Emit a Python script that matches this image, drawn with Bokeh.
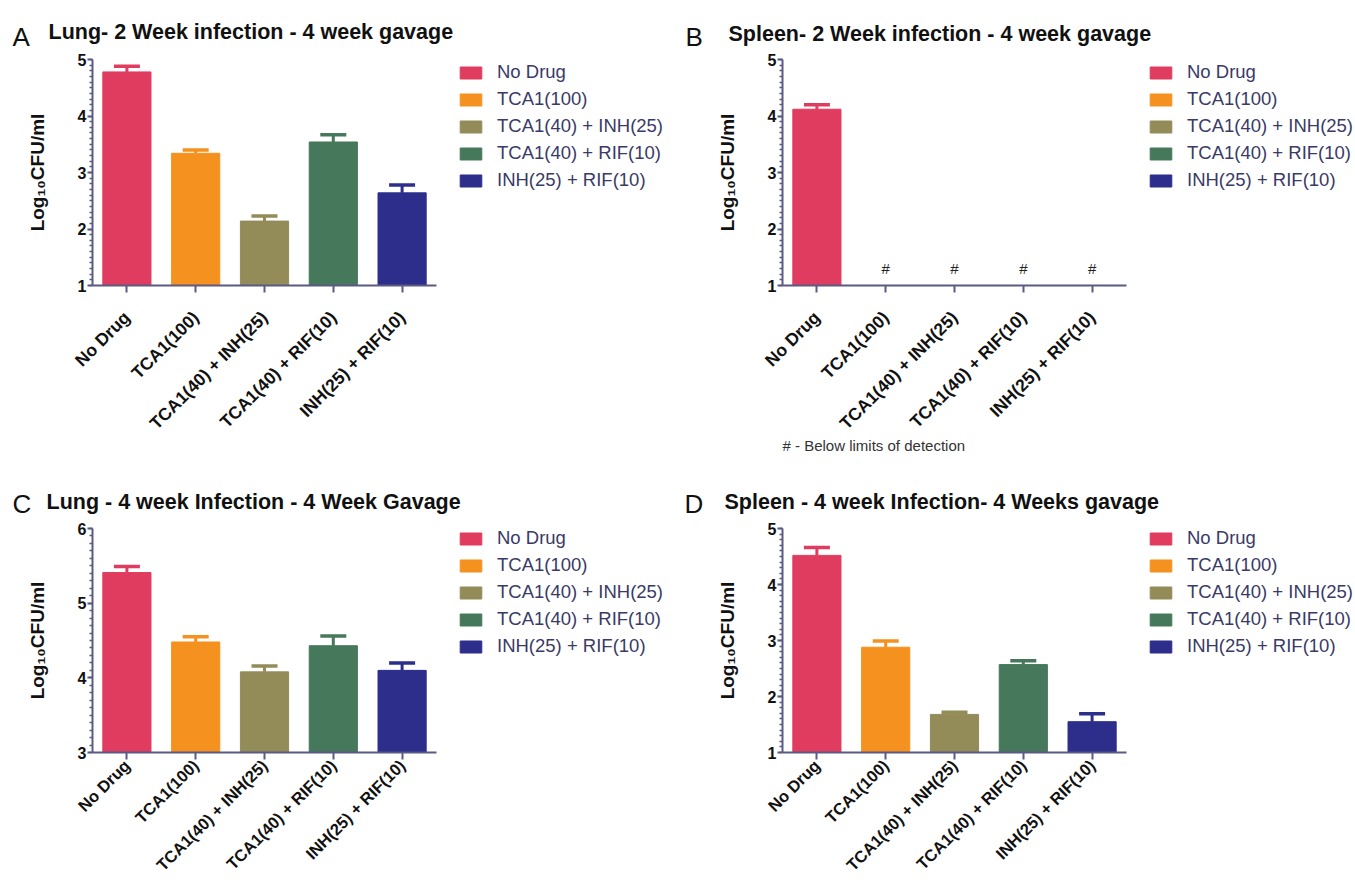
import math
from bokeh.plotting import figure
from bokeh.layouts import column, row
from bokeh.models import (ColumnDataSource, Range1d, FixedTicker, Legend, LegendItem, Title)
from bokeh.core.properties import value
from bokeh.embed import file_html
from bokeh.resources import INLINE

# ---------------- data ----------------
treatments = ["No Drug", "TCA1(100)", "TCA1(40) + INH(25)",
              "TCA1(40) + RIF(10)", "INH(25) + RIF(10)"]
colors = ["#E03C5F", "#F5911E", "#938B58", "#46785C", "#2D2D8C"]

# panel A: Lung - 2 week infection - 4 week gavage (Log10 CFU/ml, mean and mean+SEM)
lung_2wk_mean = [4.78, 3.34, 2.14, 3.54, 2.64]
lung_2wk_upper = [4.88, 3.40, 2.23, 3.67, 2.78]
# panel B: Spleen - 2 week infection (None = below limits of detection)
spleen_2wk_mean = [4.12, None, None, None, None]
spleen_2wk_upper = [4.20, None, None, None, None]
# panel C: Lung - 4 week infection
lung_4wk_mean = [5.41, 4.48, 4.08, 4.43, 4.10]
lung_4wk_upper = [5.49, 4.55, 4.16, 4.56, 4.20]
# panel D: Spleen - 4 week infection
spleen_4wk_mean = [4.52, 2.88, 1.68, 2.57, 1.55]
spleen_4wk_upper = [4.66, 2.99, 1.72, 2.64, 1.69]

titles = ["Lung- 2 Week infection - 4 week gavage",
          "Spleen- 2 Week infection - 4 week gavage",
          "Lung - 4 week Infection - 4 Week Gavage",
          "Spleen - 4 week Infection- 4 Weeks gavage"]
letters = ["A", "B", "C", "D"]
y_limits = [(1, 5), (1, 5), (3, 6), (1, 5)]
y_label = "Log\u2081\u2080CFU/ml"
footnote = "# - Below limits of detection"

# ---------------- style / layout ----------------
AXIS_C = "#5A5A84"
LEG_TXT = "#3A3A66"
FONT = "Liberation Sans"
PAGE_W = 1354
FRAME_W = 344          # width of the bar area of each panel
COL_W = [698, 656]     # widths of the two columns
LEFT = [92, 84]        # left border per column


def header(height, letter_pos, title_pos, idxs):
    h = figure(width=PAGE_W, height=height, x_range=Range1d(0, PAGE_W),
               y_range=Range1d(0, height), output_backend="svg", toolbar_location=None,
               title_location=None, x_axis_type=None, y_axis_type=None, min_border=0,
               background_fill_color="white", border_fill_color="white")
    h.outline_line_color = None
    h.text(x=[p[0] for p in letter_pos], y=[p[1] for p in letter_pos],
           text=[letters[i] for i in idxs], text_font=value(FONT), text_font_size="26px",
           text_color="#111111", text_baseline="alphabetic", text_align="left")
    h.text(x=[p[0] for p in title_pos], y=[p[1] for p in title_pos],
           text=[titles[i] for i in idxs], text_font=value(FONT), text_font_size="21.5px",
           text_font_style="bold", text_color="#111111", text_baseline="alphabetic",
           text_align="left")
    return h


def make_panel(idx, col, mean, upper, height, top, bottom, xfont, xstand, note=None):
    ymin, ymax = y_limits[idx]
    width = COL_W[col]
    left = LEFT[col]
    frame_h = height - top - bottom
    frame_w_total = width - left
    n = len(treatments)
    x_end = n * frame_w_total / FRAME_W
    p = figure(x_range=Range1d(0, x_end), y_range=Range1d(ymin, ymax),
               width=width, height=height, output_backend="svg",
               toolbar_location=None, min_border_left=left, min_border_right=0,
               min_border_top=top, min_border_bottom=bottom,
               background_fill_color="white", border_fill_color="white")
    p.outline_line_color = None
    p.xgrid.visible = False
    p.ygrid.visible = False

    xs = [i + 0.5 for i in range(n)]
    tops = [m if m is not None else float("nan") for m in mean]
    src = ColumnDataSource(dict(x=xs, top=tops, color=colors))
    bars = p.vbar(x="x", top="top", bottom=ymin, width=0.7, source=src,
                  fill_color="color", line_color="color", line_width=1)

    ok = [i for i, m in enumerate(mean) if m is not None]
    esrc = ColumnDataSource(dict(x=[xs[i] for i in ok], y0=[mean[i] for i in ok],
                                 y1=[upper[i] for i in ok], color=[colors[i] for i in ok]))
    p.segment(x0="x", y0="y0", x1="x", y1="y1", line_color="color", line_width=3, source=esrc)
    p.scatter(x="x", y="y1", marker="dash", size=26, line_width=3.5,
              line_color="color", source=esrc)

    # below detection markers
    bx = [xs[i] for i, m in enumerate(mean) if m is None]
    if bx:
        p.text(x=bx, y=[ymin] * len(bx), text=["#"] * len(bx), text_align="center",
               text_baseline="alphabetic", y_offset=-17, text_font=value(FONT),
               text_font_size="15px", text_color="#222222")

    # legend to the right of the bars
    items = [LegendItem(label=t, renderers=[bars], index=i) for i, t in enumerate(treatments)]
    row_h, gap = 21, 5
    leg_h = n * row_h + (n - 1) * gap
    leg = Legend(items=items, location=(FRAME_W + 21, frame_h - 7 - leg_h),
                 glyph_width=27, glyph_height=15, label_height=row_h, spacing=gap,
                 label_standoff=13, padding=0, margin=0,
                 label_text_font=FONT, label_text_font_size="18.5px",
                 label_text_color=LEG_TXT, border_line_color=None,
                 background_fill_alpha=0)
    p.add_layout(leg)

    # axes
    yax = p.yaxis[0]
    yax.ticker = FixedTicker(ticks=list(range(ymin, ymax + 1)),
                             minor_ticks=[ymin + k / 10 for k in range((ymax - ymin) * 10 + 1)])
    yax.axis_line_color = AXIS_C
    yax.axis_line_width = 2
    yax.major_tick_line_color = AXIS_C
    yax.major_tick_line_width = 2
    yax.minor_tick_line_color = AXIS_C
    yax.minor_tick_line_width = 1.5
    yax.major_tick_in = 0
    yax.major_tick_out = 5
    yax.minor_tick_in = 0
    yax.minor_tick_out = 3
    yax.major_label_standoff = 1
    yax.major_label_text_font = FONT
    yax.major_label_text_font_size = "16px"
    yax.major_label_text_font_style = "bold"
    yax.major_label_text_color = "#111111"
    yax.axis_label = y_label
    yax.axis_label_text_font = FONT
    yax.axis_label_text_font_size = "19px"
    yax.axis_label_text_font_style = "bold"
    yax.axis_label_text_color = "#111111"
    yax.axis_label_standoff = 27

    xax = p.xaxis[0]
    xax.ticker = FixedTicker(ticks=xs, minor_ticks=[])
    xax.major_label_overrides = {x: t for x, t in zip(xs, treatments)}
    xax.bounds = (0, n)
    xax.axis_line_color = AXIS_C
    xax.axis_line_width = 2
    xax.major_tick_line_color = AXIS_C
    xax.major_tick_line_width = 2
    xax.major_tick_in = 0
    xax.major_tick_out = 7
    xax.minor_tick_line_color = None
    xax.major_label_orientation = math.pi / 4
    xax.major_label_standoff = xstand
    xax.major_label_text_font = FONT
    xax.major_label_text_font_size = xfont
    xax.major_label_text_font_style = "bold"
    xax.major_label_text_color = "#111111"

    if note:
        p.add_layout(Title(text=note, align="left", offset=0, standoff=-17,
                           text_font=FONT, text_font_size="15px", text_font_style="normal",
                           text_color="#333333"), "below")
    return p


# header 1: page y 0..52 ; top row 52..471 (frame 59..285)
# header 2: page y 471..519 ; bottom row 519..883 (frame 528..755)
h1 = header(52, [(12, 16), (685, 16)], [(48, 20.3), (728, 18.7)], [0, 1])
pA = make_panel(0, 0, lung_2wk_mean, lung_2wk_upper, 419, 7, 186, "17.5px", 22)
pB = make_panel(1, 1, spleen_2wk_mean, spleen_2wk_upper, 419, 7, 186, "17.5px", 22,
                note=footnote)
h2 = header(48, [(12, 16), (684, 16)], [(46, 18), (724, 18)], [2, 3])
pC = make_panel(2, 0, lung_4wk_mean, lung_4wk_upper, 364, 9, 128, "16.5px", 3)
pD = make_panel(3, 1, spleen_4wk_mean, spleen_4wk_upper, 364, 9, 128, "16.5px", 3)

layout = column(h1, row(pA, pB), h2, row(pC, pD))
open("out.html", "w").write(file_html(layout, INLINE))
